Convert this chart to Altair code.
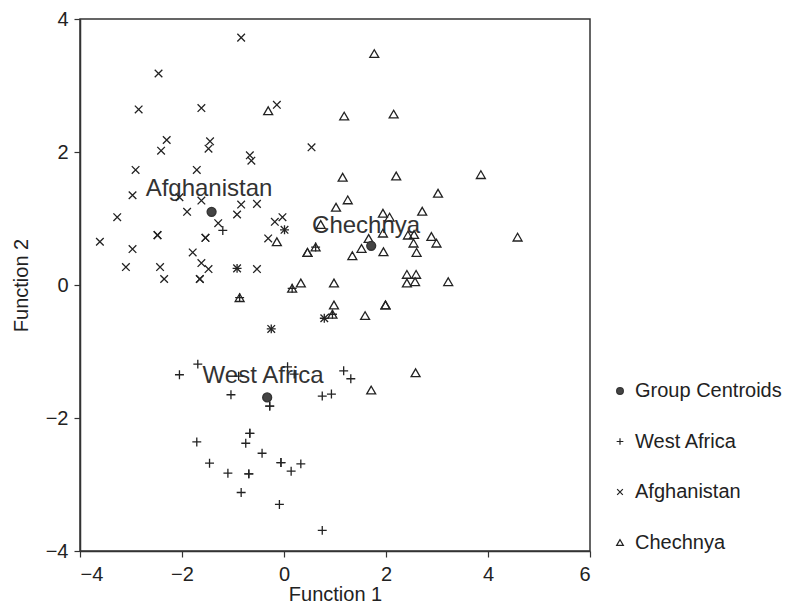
import altair as alt
import pandas as pd

# ---- data ----
wa_x = [-1.20, 0.01, -0.92, 0.16, -0.87, -0.25, 0.79, 0.95, -1.69, -2.05, -0.89, 0.07, 0.20,
        1.17, 1.31, -1.04, -0.28, -0.28, 0.75, 0.93, -0.67, -0.67, -0.75, -1.71, -0.43, -1.46,
        -0.06, -0.06, 0.33, -1.10, -0.69, -0.69, 0.14, -0.84, -0.09, 0.75, 0.62]
wa_y = [0.82, 0.83, 0.25, -0.05, -0.19, -0.66, -0.50, -0.44, -1.19, -1.35, -1.37, -1.23, -1.34,
        -1.29, -1.41, -1.65, -1.82, -1.82, -1.67, -1.64, -2.23, -2.23, -2.38, -2.36, -2.53, -2.68,
        -2.67, -2.67, -2.69, -2.83, -2.84, -2.84, -2.80, -3.12, -3.30, -3.69, 0.57]

af_x = [-0.84, -2.46, -2.85, -1.62, -0.14, -2.30, -2.41, -1.45, -1.48, -0.67, -0.64, 0.54,
        -2.91, -1.71, -2.97, -2.05, -1.62, -0.84, -0.53, -3.27, -1.90, -0.92, -1.29, -0.18,
        -0.03, 0.01, -3.61, -2.48, -2.48, -1.54, -1.54, -0.31, -2.97, -1.79, -1.62, -1.48,
        -3.10, -2.43, -0.92, -0.53, -2.35, -1.65, -1.65, -0.25, 0.79]
af_y = [3.72, 3.18, 2.64, 2.66, 2.71, 2.18, 2.02, 2.16, 2.05, 1.95, 1.87, 2.07,
        1.73, 1.73, 1.35, 1.32, 1.27, 1.21, 1.22, 1.02, 1.10, 1.06, 0.93, 0.95,
        1.02, 0.83, 0.65, 0.75, 0.75, 0.71, 0.71, 0.70, 0.54, 0.49, 0.33, 0.24,
        0.27, 0.27, 0.25, 0.24, 0.09, 0.09, 0.09, -0.66, -0.50]

ch_x = [-0.31, 1.77, 1.18, 2.15, 1.15, 2.20, 3.86, 3.02, 1.25, 1.02, 1.94, 2.07, 2.71, 0.72,
        1.94, 1.66, 2.43, 2.55, 2.54, 2.89, 2.99, 4.58, 1.52, 1.34, 1.95, 2.60, 0.46, 0.46,
        0.62, -0.14, 2.41, 2.59, 2.41, 2.57, 3.22, 0.98, 0.33, 0.16, -0.87, 0.98, 1.99, 1.99,
        0.95, 1.59, 2.58, 1.71]
ch_y = [2.62, 3.48, 2.54, 2.57, 1.62, 1.64, 1.66, 1.38, 1.28, 1.17, 1.08, 1.02, 1.11, 0.91,
        0.78, 0.70, 0.75, 0.76, 0.63, 0.73, 0.63, 0.72, 0.55, 0.44, 0.50, 0.49, 0.49, 0.49,
        0.57, 0.65, 0.16, 0.16, 0.03, 0.05, 0.05, 0.03, 0.03, -0.05, -0.19, -0.30, -0.30, -0.30,
        -0.44, -0.46, -1.32, -1.58]

cent_names = ["Afghanistan", "Chechnya", "West Africa"]
cent_x = [-1.42, 1.71, -0.33]
cent_y = [1.10, 0.59, -1.69]

label_names = ["Afghanistan", "Chechnya", "West Africa"]
label_x = [-1.47, 1.61, -0.41]
label_y = [1.44, 0.89, -1.37]

groups = ["Group Centroids", "West Africa", "Afghanistan", "Chechnya"]

# ---- build table ----
rows = []
for x, y in zip(wa_x, wa_y):
    rows.append({"f1": x, "f2": y, "group": "West Africa", "ord": 1})
for x, y in zip(af_x, af_y):
    rows.append({"f1": x, "f2": y, "group": "Afghanistan", "ord": 2})
for x, y in zip(ch_x, ch_y):
    rows.append({"f1": x, "f2": y, "group": "Chechnya", "ord": 3})
for x, y in zip(cent_x, cent_y):
    rows.append({"f1": x, "f2": y, "group": "Group Centroids", "ord": 4})
pts = pd.DataFrame(rows)
labels = pd.DataFrame({"name": label_names, "f1": label_x, "f2": label_y})

PLUS = "M-1,0L1,0M0,-1L0,1"
CROSS = "M-0.85,-0.85L0.85,0.85M-0.85,0.85L0.85,-0.85"

FONT = "Liberation Sans"

xs = alt.Scale(domain=[-4, 6], nice=False, zero=False)
ys = alt.Scale(domain=[-4, 4], nice=False, zero=False)

xenc = alt.X("f1:Q", scale=xs, title="Function 1",
             axis=alt.Axis(values=[-4, -2, 0, 2, 4, 6], grid=False, tickSize=6,
                           labelPadding=7, titlePadding=0))
yenc = alt.Y("f2:Q", scale=ys, title="Function 2",
             axis=alt.Axis(values=[-4, -2, 0, 2, 4], grid=False, tickSize=6,
                           labelPadding=6, titlePadding=14))

text = alt.Chart(labels).mark_text(fontSize=24, color="#333333", font=FONT).encode(
    x=xenc, y=yenc, text="name:N")

leg = alt.Legend(title=None, orient="none", legendX=530, legendY=362,
                 labelFontSize=20, labelColor="#222222", labelFont=FONT,
                 rowPadding=30.5, symbolSize=45, symbolStrokeWidth=1.2,
                 labelOffset=5, padding=0)

points = alt.Chart(pts).mark_point(strokeWidth=1.3, opacity=1).encode(
    x=xenc, y=yenc,
    shape=alt.Shape("group:N", scale=alt.Scale(domain=groups,
                    range=["circle", PLUS, CROSS, "triangle-up"]), legend=leg),
    fill=alt.Fill("group:N", scale=alt.Scale(domain=groups,
                  range=["#444444", "transparent", "transparent", "transparent"]), legend=leg),
    stroke=alt.Stroke("group:N", scale=alt.Scale(domain=groups,
                      range=["#333333", "#222222", "#222222", "#222222"]), legend=leg),
    order=alt.Order("ord:Q"),
)

chart = alt.layer(text, points).properties(
    width=510, height=532,
    autosize=alt.AutoSizeParams(type="none"),
    padding={"left": 72, "top": 11, "right": 197, "bottom": 53},
).configure_view(stroke="#333333", strokeWidth=1.5).configure_axis(
    labelFontSize=20, titleFontSize=20, labelColor="#222222", titleColor="#222222",
    labelFont=FONT, titleFont=FONT, titleFontWeight="normal",
    domainColor="#333333", tickColor="#333333", domainWidth=1.5, tickWidth=1.2,
).configure_point(size=80)

chart.save("out.html", embed_options={"renderer": "svg", "actions": False})
